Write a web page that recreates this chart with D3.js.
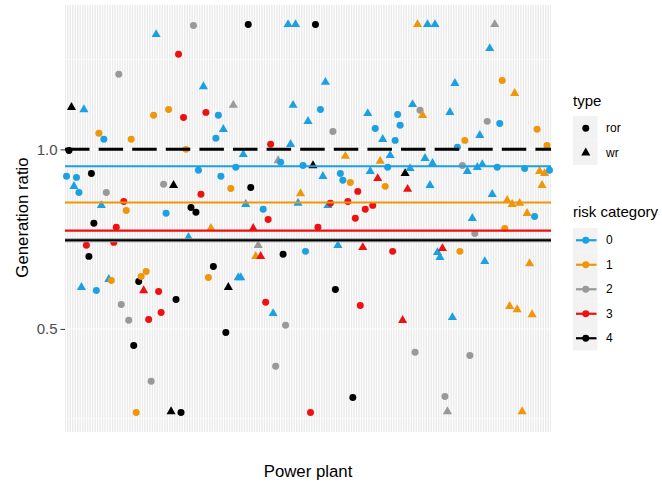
<!DOCTYPE html>
<html>
<head>
<meta charset="utf-8">
<script src="https://cdn.jsdelivr.net/npm/d3@7"></script>
<style>
  body { margin: 0; background: #fff; }
  text { font-family: "Liberation Sans", Arial, sans-serif; }
</style>
</head>
<body>
<script>
// generation ratio per power plant, in plant order
const ratio = [
  0.925,0.997,1.117,0.897,0.922,0.880,0.616,1.111,0.733,0.702,0.933,0.794,0.607,1.045,0.844,
  1.028,0.880,0.638,0.635,0.741,0.783,1.209,0.568,0.855,0.830,0.524,1.028,0.454,0.267,0.632,
  0.646,0.607,0.660,0.526,0.354,1.095,1.320,0.604,0.546,0.903,0.822,1.111,0.270,0.900,0.582,
  1.265,0.267,1.089,1.000,0.755,0.838,1.345,0.825,0.942,0.875,1.175,1.103,0.643,0.780,0.674,
  1.031,1.095,0.925,1.056,0.490,0.616,0.891,1.123,0.950,0.643,0.643,0.986,0.847,1.348,0.894,
  0.780,0.702,0.733,0.702,0.833,0.574,0.805,1.014,0.543,0.396,0.969,0.964,0.708,0.510,1.348,
  1.014,1.123,1.348,0.850,0.877,0.955,0.716,1.078,0.267,0.955,1.348,0.783,1.111,0.925,1.187,
  0.844,0.850,1.050,0.610,0.733,0.933,0.914,0.981,0.855,0.908,0.309,0.808,0.883,0.565,0.727,
  0.833,1.100,0.939,0.844,1.058,0.919,0.967,1.028,0.897,0.950,0.983,0.716,1.025,1.097,1.067,
  0.524,0.933,0.889,0.947,1.125,0.435,1.348,1.109,1.095,0.975,1.348,0.900,0.961,1.348,0.713,
  0.699,0.724,0.312,0.270,1.103,0.532,1.184,1.006,0.716,0.955,1.025,0.939,0.426,0.808,0.766,
  0.950,1.039,0.958,0.688,1.078,1.281,0.875,1.348,0.950,1.072,1.192,0.780,0.858,0.563,0.847,
  1.156,0.554,0.850,0.270,0.947,0.822,0.682,0.540,0.813,1.056,0.939,0.900,0.933,1.011,0.942
];

const plantType = [
  "ror","ror","wr","wr","ror","ror","wr","wr","ror","ror",
  "ror","ror","ror","ror","wr","ror","ror","wr","ror","ror",
  "ror","ror","ror","ror","ror","ror","ror","ror","ror","ror",
  "ror","wr","ror","ror","ror","ror","wr","ror","ror","ror",
  "ror","ror","wr","wr","ror","ror","ror","ror","ror","wr",
  "ror","ror","ror","ror","ror","wr","ror","ror","wr","ror",
  "ror","ror","ror","wr","ror","wr","ror","wr","ror","wr",
  "wr","wr","wr","ror","ror","wr","wr","wr","wr","ror",
  "ror","ror","ror","wr","ror","wr","ror","ror","ror","wr",
  "wr","wr","wr","wr","wr","ror","ror","wr","ror","wr",
  "ror","ror","ror","wr","wr","wr","ror","ror","ror","wr",
  "ror","ror","wr","ror","ror","ror","ror","ror","ror","wr",
  "ror","wr","wr","ror","ror","wr","wr","wr","ror","ror",
  "wr","ror","ror","ror","ror","wr","wr","wr","wr","wr",
  "ror","wr","ror","wr","wr","wr","wr","wr","wr","wr",
  "wr","wr","ror","wr","wr","wr","wr","ror","ror","ror",
  "ror","wr","ror","wr","ror","wr","wr","wr","wr","ror",
  "wr","wr","wr","ror","ror","ror","ror","wr","wr","wr",
  "wr","wr","wr","wr","ror","wr","wr","wr","ror","ror",
  "wr","wr","wr","ror","ror"
];

const risk = [
  0,4,4,0,0,0,0,0,3,4,
  4,4,0,1,0,0,2,0,1,3,
  3,2,2,3,1,2,1,4,1,4,
  1,3,1,3,2,1,0,3,3,2,
  0,1,4,4,4,3,4,3,1,0,
  4,2,4,0,3,0,3,1,1,4,
  0,0,0,0,4,4,1,2,0,0,
  0,0,0,4,4,3,1,2,3,0,
  3,3,3,0,2,2,0,4,2,0,
  0,0,0,0,1,0,0,0,3,4,
  4,3,0,0,0,0,3,2,4,0,
  0,0,1,3,1,4,3,3,3,3,
  3,0,0,3,0,3,1,0,1,0,
  0,3,0,0,0,3,4,3,0,0,
  2,1,2,1,0,0,0,0,0,0,
  0,3,2,2,0,0,0,0,1,2,
  1,0,2,0,2,0,0,0,0,2,
  0,0,2,0,0,1,1,1,1,1,
  1,1,1,1,0,1,1,1,0,1,
  1,1,1,1,0
];

const riskLevels = [0, 1, 2, 3, 4];
const riskColors = ['#1ba1e2', '#f0960a', '#999999', '#ee1111', '#000000'];
const riskLines = [0.953, 0.852, 0.747, 0.774, 0.747];  // horizontal level per risk category
const targetRatio = 1.0;
const typeLevels = ['ror', 'wr'];
const yTicks = [0.5, 1.0];
const yMinor = [0.25, 0.75, 1.25];

const plants = ratio.map((d, i) => i + 1);

let width = 662;
let height = 483;
let panel = {left: 65, right: 551, top: 5, bottom: 432};

let svg = d3.select('body').append('svg')
            .attr('width', width)
            .attr('height', height);

let x = d3.scalePoint()
          .domain(plants)
          .range([panel.left, panel.right])
          .padding(0.6);

let lo = d3.min(ratio), hi = d3.max(ratio);
let pad = (hi - lo) * 0.05;
let y = d3.scaleLinear()
          .domain([lo - pad, hi + pad])
          .range([panel.bottom, panel.top]);

// panel background + grid
svg.append('rect')
   .attr('x', panel.left).attr('y', panel.top)
   .attr('width', panel.right - panel.left)
   .attr('height', panel.bottom - panel.top)
   .attr('fill', '#ebebeb');

svg.append('g').selectAll('line').data(yMinor)
   .enter().append('line')
   .attr('x1', panel.left).attr('x2', panel.right)
   .attr('y1', d => y(d)).attr('y2', d => y(d))
   .attr('stroke', '#fff').attr('stroke-width', 0.55);

svg.append('g').selectAll('line').data(yTicks)
   .enter().append('line')
   .attr('x1', panel.left).attr('x2', panel.right)
   .attr('y1', d => y(d)).attr('y2', d => y(d))
   .attr('stroke', '#fff').attr('stroke-width', 1.07);

svg.append('g').selectAll('line').data(plants)
   .enter().append('line')
   .attr('x1', d => x(d)).attr('x2', d => x(d))
   .attr('y1', panel.top).attr('y2', panel.bottom)
   .attr('stroke', '#fff').attr('stroke-width', 1.07);

// points
let pts = plants.map((p, i) => ({plant: p, ratio: ratio[i], type: plantType[i], risk: risk[i]}));
let circle = d3.symbol().type(d3.symbolCircle).size(38)();
let triangle = d3.symbol().type(d3.symbolTriangle).size(36)();

svg.append('g').selectAll('path').data(pts)
   .enter().append('path')
   .attr('transform', d => `translate(${x(d.plant)},${y(d.ratio)})`)
   .attr('d', d => d.type === 'wr' ? triangle : circle)
   .attr('fill', d => riskColors[d.risk]);

// reference lines
svg.append('line')
   .attr('x1', panel.left).attr('x2', panel.right)
   .attr('y1', y(targetRatio)).attr('y2', y(targetRatio))
   .attr('stroke', '#000').attr('stroke-width', 3)
   .attr('stroke-dasharray', '24.5,9.1');

let lineOrder = [2, 4, 3, 1, 0];
svg.append('g').selectAll('line').data(lineOrder)
   .enter().append('line')
   .attr('x1', panel.left).attr('x2', panel.right)
   .attr('y1', d => y(riskLines[d])).attr('y2', d => y(riskLines[d]))
   .attr('stroke', d => riskColors[d])
   .attr('stroke-width', d => d === 2 ? 4 : 2.2);

// y axis
let yAxis = svg.append('g')
   .attr('transform', `translate(${panel.left},0)`)
   .call(d3.axisLeft(y).tickValues(yTicks).tickSize(4.5).tickPadding(3).tickFormat(d3.format('.1f')));
yAxis.select('.domain').remove();
yAxis.selectAll('line').attr('stroke', '#333');
yAxis.selectAll('text')
     .attr('fill', '#4d4d4d')
     .attr('font-size', '15px')
     .attr('font-family', '"Liberation Sans", Arial, sans-serif');

// axis titles
svg.append('text')
   .attr('x', (panel.left + panel.right) / 2)
   .attr('y', 476.5)
   .attr('text-anchor', 'middle')
   .attr('font-size', '16.8px')
   .text('Power plant');

svg.append('text')
   .attr('transform', `translate(28,${(panel.top + panel.bottom) / 2 - 1}) rotate(-90)`)
   .attr('text-anchor', 'middle')
   .attr('font-size', '16.8px')
   .text('Generation ratio');

// legend: type
let keyW = 24.5, keyH = 24.5, legX = 573;
let lg1 = svg.append('g');
lg1.append('text').attr('x', legX).attr('y', 106).attr('font-size', '15px').text('type');
let t1 = lg1.selectAll('g').data(typeLevels).enter().append('g')
            .attr('transform', (d, i) => `translate(${legX},${116 + i * keyH})`);
t1.append('rect').attr('width', keyW).attr('height', keyH).attr('fill', '#f2f2f2');
t1.append('path')
  .attr('transform', `translate(${keyW / 2 + 0.5},${keyH / 2})`)
  .attr('d', d => d === 'wr' ? triangle : circle)
  .attr('fill', '#000');
t1.append('text').attr('x', 33).attr('y', keyH / 2).attr('dy', '0.35em')
  .attr('font-size', '12px').text(d => d);

// legend: risk category
let lg2 = svg.append('g');
lg2.append('text').attr('x', legX).attr('y', 217).attr('font-size', '15px').text('risk category');
let t2 = lg2.selectAll('g').data(riskLevels).enter().append('g')
            .attr('transform', (d, i) => `translate(${legX},${228 + i * keyH})`);
t2.append('rect').attr('width', keyW).attr('height', keyH).attr('fill', '#f2f2f2');
t2.append('line')
  .attr('x1', 3).attr('x2', keyW - 1)
  .attr('y1', keyH / 2).attr('y2', keyH / 2)
  .attr('stroke', d => riskColors[d]).attr('stroke-width', 2.2);
t2.append('path')
  .attr('transform', `translate(${keyW / 2 + 0.5},${keyH / 2})`)
  .attr('d', circle)
  .attr('fill', d => riskColors[d]);
t2.append('text').attr('x', 33).attr('y', keyH / 2).attr('dy', '0.35em')
  .attr('font-size', '12px').text(d => d);
</script>
</body>
</html>
